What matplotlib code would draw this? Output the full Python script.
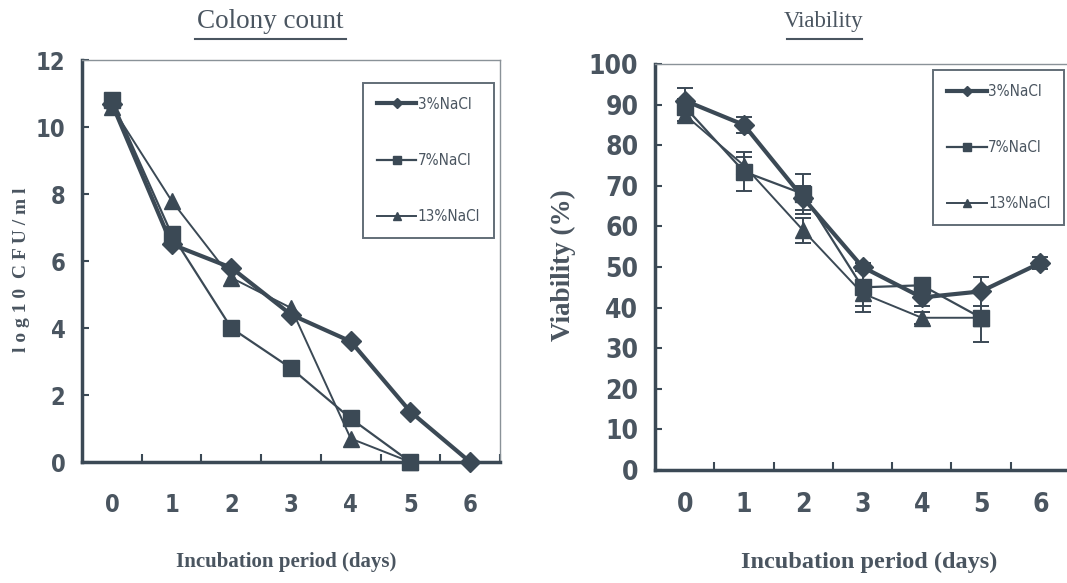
import matplotlib.pyplot as plt
from matplotlib.lines import Line2D
from matplotlib.ticker import FixedLocator, NullFormatter

days = [0, 1, 2, 3, 4, 5, 6]
legend_txt = ["3%NaCl", "7%NaCl", "13%NaCl"]

# colony count, log10 CFU/ml
cfu_3 = [10.7, 6.5, 5.8, 4.4, 3.6, 1.5, 0.0]
cfu_7 = [10.8, 6.8, 4.0, 2.8, 1.3, 0.0]
cfu_13 = [10.6, 7.8, 5.5, 4.6, 0.7, 0.0]

# viability (%)
via_3 = [91, 85, 67, 50, 42.5, 44, 51]
via_3_err = [3, 2, 3, 1, 2, 3.5, 1.5]
via_7 = [89.5, 73.5, 68, 45, 45.5, 37.5]
via_7_err = [2, 4.8, 5, 6, 1.5, 6]
via_13 = [87.5, 75, 59, 43.5, 37.5, 37.5]
via_13_err = [1.5, 2, 3, 3, 1.5, 1]

col = "#3b4955"
txt = "#4a5560"
serif = ["Liberation Serif", "DejaVu Serif"]

fig = plt.figure(figsize=(10.67, 5.83), dpi=100)
ax1 = fig.add_axes([0.0769, 0.2075, 0.3917, 0.6895])
ax2 = fig.add_axes([0.6139, 0.1938, 0.3889, 0.6964])

styles = [dict(marker="D", lw=3.0, ms=10), dict(marker="s", lw=1.6, ms=12), dict(marker="^", lw=1.4, ms=11)]


def style_axes(ax, ymax, ystep, size, xpad):
    ax.set_xlim(-0.5, 6.5)
    ax.set_ylim(0, ymax)
    ax.xaxis.set_major_locator(FixedLocator(days))
    ax.xaxis.set_minor_locator(FixedLocator([d + 0.5 for d in days]))
    ax.xaxis.set_minor_formatter(NullFormatter())
    ax.tick_params(axis="x", which="major", length=0, pad=xpad)
    ax.tick_params(axis="x", which="minor", direction="in", length=6, width=1.5, color=col)
    ax.set_yticks(range(0, ymax + 1, ystep))
    ax.tick_params(axis="y", direction="in", length=5, width=1.5, color=col, pad=12)
    for sp in ["left", "bottom"]:
        ax.spines[sp].set_linewidth(2.5)
        ax.spines[sp].set_color(col)
    for sp in ["top", "right"]:
        ax.spines[sp].set_linewidth(1.0)
        ax.spines[sp].set_color("#8a9298")
    for t in ax.get_xticklabels() + ax.get_yticklabels():
        t.set_family("DejaVu Sans")
        t.set_stretch("condensed")
        t.set_fontweight("bold")
        t.set_fontsize(size)
        t.set_color(txt)


def add_legend(ax, x0, y0):
    handles = [Line2D([], [], color=col, **st) for st in styles]
    leg = ax.legend(handles, legend_txt, loc="upper left", bbox_to_anchor=(x0, y0), borderaxespad=0,
                    frameon=True, fancybox=False, edgecolor=col, labelspacing=2.7, handlelength=2.6,
                    handletextpad=0.1, borderpad=0.9, markerscale=0.5,
                    prop={"family": "DejaVu Sans", "stretch": "condensed", "size": 11})
    leg.get_frame().set_linewidth(1.4)
    for t in leg.get_texts():
        t.set_color(txt)


# left panel
for ys, st in zip([cfu_3, cfu_7, cfu_13], styles):
    ax1.plot(days[:len(ys)], ys, color=col, clip_on=False, zorder=3, **st)
style_axes(ax1, 12, 2, 17, 22)
add_legend(ax1, 0.672, 0.943)

# right panel
for ys, es, st in zip([via_3, via_7, via_13], [via_3_err, via_7_err, via_13_err], styles):
    ax2.errorbar(days[:len(ys)], ys, yerr=es, color=col, capsize=6,
                 elinewidth=1.4, capthick=1.4, clip_on=False, zorder=3, **st)
style_axes(ax2, 100, 10, 19, 16)
add_legend(ax2, 0.67, 0.985)

# titles, underlined
fig.text(270 / 1067, 1 - 21 / 583, "Colony count", ha="center", va="center",
         family=serif, fontsize=19.5, color=txt)
fig.text(824 / 1067, 1 - 21 / 583, "Viability", ha="center", va="center",
         family=serif, fontsize=16.5, color=txt)
fig.add_artist(Line2D([195 / 1067, 346 / 1067], [1 - 39 / 583] * 2, color=txt, lw=1.5))
fig.add_artist(Line2D([787 / 1067, 862 / 1067], [1 - 39 / 583] * 2, color=txt, lw=1.5))

# axis labels
fig.text(286 / 1067, 1 - 562 / 583, "Incubation period (days)", ha="center", va="center",
         family=serif, fontsize=15, fontweight="bold", color=txt)
fig.text(869 / 1067, 1 - 562 / 583, "Incubation period (days)", ha="center", va="center",
         family=serif, fontsize=17.5, fontweight="bold", color=txt)
fig.text(22 / 1067, 1 - 270 / 583, "l o g 1 0  C F U / m l", ha="center", va="center",
         rotation=90, family=serif, fontsize=14, fontweight="bold", color=txt)
fig.text(563 / 1067, 1 - 265 / 583, "Viability (%)", ha="center", va="center",
         rotation=90, family=serif, fontsize=19.5, fontweight="bold", color=txt)

fig.savefig("out.png", dpi=100)
